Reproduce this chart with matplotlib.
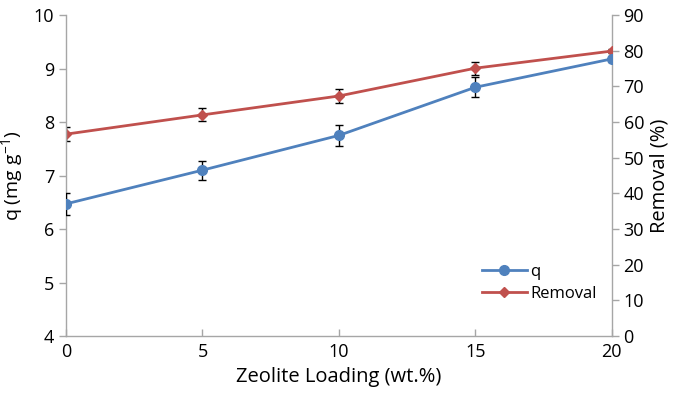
import matplotlib.pyplot as plt
from matplotlib.lines import Line2D

# data
loading = [0, 5, 10, 15, 20]
q_vals = [6.47, 7.10, 7.75, 8.65, 9.18]
q_err = [0.20, 0.18, 0.20, 0.19, 0.05]
removal = [56.6, 62.0, 67.3, 75.1, 79.9]
removal_err = [2.0, 1.8, 1.9, 1.8, 0.5]

blue = '#4F81BD'
red = '#C0504D'
grey = '#A6A6A6'

plt.rcParams['font.family'] = ['Open Sans', 'DejaVu Sans']
plt.rcParams['mathtext.default'] = 'regular'

fig = plt.figure(figsize=(6.79, 3.96), dpi=100)
ax = fig.add_axes([0.0972, 0.1515, 0.8038, 0.8105])
ax2 = ax.twinx()

ax.errorbar(loading, q_vals, yerr=q_err, color=blue, lw=2, marker='o', ms=7,
            ecolor='black', elinewidth=1, capsize=3, capthick=1, zorder=3)
ax2.errorbar(loading, removal, yerr=removal_err, color=red, lw=2, marker='D', ms=5.5,
             ecolor='black', elinewidth=1, capsize=3, capthick=1, zorder=3)

ax.set_xlim(0, 20)
ax.set_ylim(4, 10)
ax2.set_ylim(0, 90)
ax.set_xticks([0, 5, 10, 15, 20])
ax.set_yticks(range(4, 11))
ax2.set_yticks(range(0, 91, 10))

for a in (ax, ax2):
    for s in a.spines.values():
        s.set_visible(False)
    a.tick_params(labelsize=13, color=grey, length=5, width=1)
ax.spines['left'].set_visible(True)
ax.spines['bottom'].set_visible(True)
ax2.spines['right'].set_visible(True)
for s in (ax.spines['left'], ax.spines['bottom'], ax2.spines['right']):
    s.set_color(grey)
    s.set_linewidth(1)
ax.tick_params(axis='x', direction='in', length=5, pad=5)
ax.tick_params(axis='y', direction='out')
ax2.tick_params(axis='y', direction='out')
ax.set_zorder(ax2.get_zorder() + 1)
ax.patch.set_visible(False)

ax.set_xlabel('Zeolite Loading (wt.%)', fontsize=14.5)
ax.set_ylabel('q (mg g$^{-1}$)', fontsize=14)
ax.yaxis.set_label_coords(-0.075, 0.5)
ax2.set_ylabel('Removal (%)', fontsize=14.5, labelpad=4)

handles = [Line2D([], [], color=blue, lw=2, marker='o', ms=7),
           Line2D([], [], color=red, lw=2, marker='D', ms=5)]
ax.legend(handles, ['q', 'Removal'], loc='lower right', bbox_to_anchor=(1.0, 0.06),
          frameon=False, fontsize=12, handlelength=2.7, handletextpad=0.2,
          labelspacing=0.35)

fig.savefig('out.png', dpi=100)
